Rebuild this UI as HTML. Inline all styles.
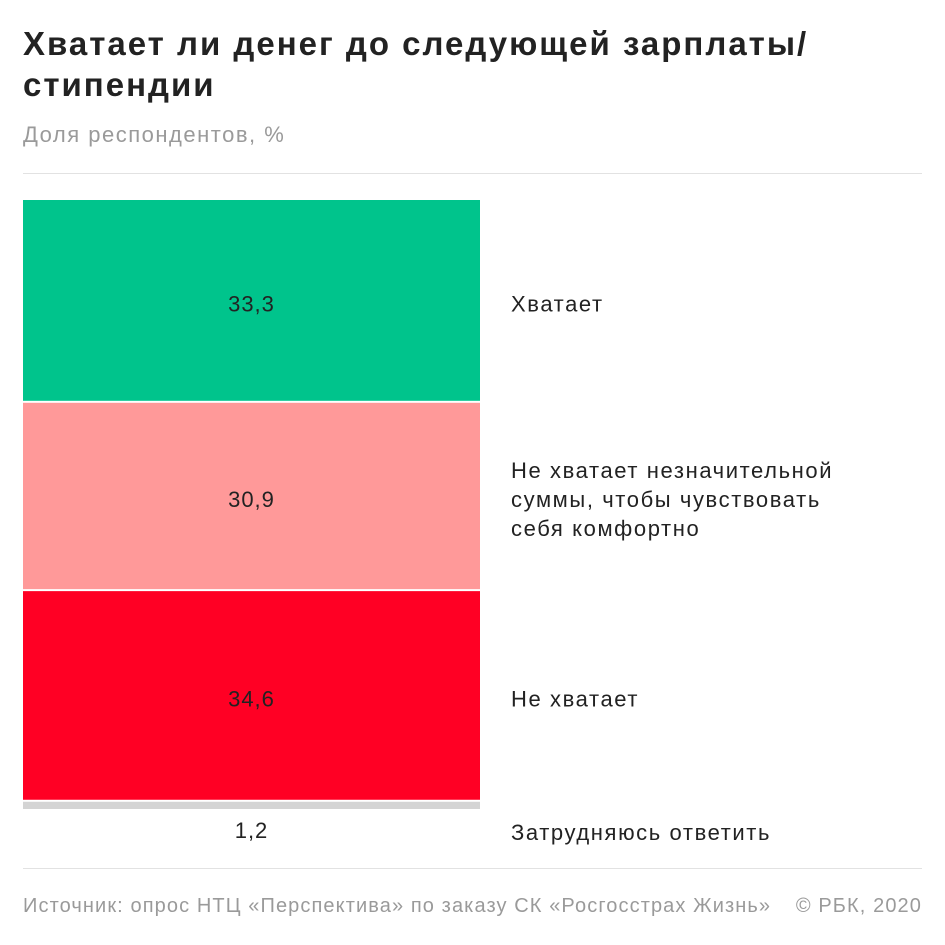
<!DOCTYPE html>
<html><head><meta charset="utf-8"><style>
body{margin:0;background:#fff;font-family:"Liberation Sans",sans-serif;}
#root{position:relative;width:945px;height:945px;overflow:hidden;}
.t{position:absolute;white-space:nowrap;}
</style></head><body>
<div id="root">
<div class="t" style="left:23px;top:23px;font-size:33px;letter-spacing:2px;font-weight:bold;color:#222;line-height:41px;">Хватает ли денег до следующей зарплаты/<br>стипендии</div>
<div class="t" style="left:23px;top:122px;font-size:22px;letter-spacing:1.5px;color:#9a9a9a;">Доля респондентов, %</div>
<div style="position:absolute;left:23px;top:173px;width:899px;height:1px;background:#e2e2e2"></div>
<svg id="svg" width="945" height="945" style="position:absolute;left:0;top:0"></svg>
<div style="position:absolute;left:23px;top:868px;width:899px;height:1px;background:#e2e2e2"></div>
<div class="t" style="left:23px;top:895px;font-size:20px;letter-spacing:1.1px;color:#9a9a9a;">Источник: опрос НТЦ «Перспектива» по заказу СК «Росгосстрах Жизнь»</div>
<div class="t" style="right:23px;top:895px;font-size:20px;letter-spacing:1.1px;color:#9a9a9a;">© РБК, 2020</div>
</div>
<script>
const categories=["Хватает","Не хватает незначительной\nсуммы, чтобы чувствовать\nсебя комфортно","Не хватает","Затрудняюсь ответить"];
const values=[33.3,30.9,34.6,1.2];
const valueLabels=["33,3","30,9","34,6","1,2"];
const colors=["#00c48c","#ff9999","#ff0024","#d4d4d4"];
const svg=document.getElementById('svg');
const NS="http://www.w3.org/2000/svg";
const top0=200,gap=2,x0=23,w=457;
const total=values.reduce((a,b)=>a+b,0);
const avail=609-gap*(values.length-1);
const yScale=v=>v/total*avail;
let y=top0;
values.forEach((v,i)=>{
  const h=yScale(v);
  const r=document.createElementNS(NS,'rect');
  r.setAttribute('x',x0);r.setAttribute('y',y);r.setAttribute('width',w);r.setAttribute('height',h);r.setAttribute('fill',colors[i]);
  
  
  svg.appendChild(r);
  const small=h<30;
  const vt=document.createElementNS(NS,'text');
  vt.setAttribute('x',x0+w/2);vt.setAttribute('y',small?y+h+29:y+h/2+11);
  vt.setAttribute('text-anchor','middle');vt.setAttribute('font-size','22');vt.setAttribute('fill','#222');
  vt.setAttribute('letter-spacing','1');
  vt.setAttribute('font-family','Liberation Sans, sans-serif');
  vt.textContent=valueLabels[i];
  
  
  svg.appendChild(vt);
  const lines=categories[i].split('\n');
  const cy=small?y+h+20:y+h/2;
  const lt=document.createElementNS(NS,'text');
  lt.setAttribute('font-size','22');lt.setAttribute('fill','#222');
  lt.setAttribute('letter-spacing','1.6');
  lt.setAttribute('font-family','Liberation Sans, sans-serif');
  
  
  lines.forEach((ln,j)=>{
    const ts=document.createElementNS(NS,'tspan');
    ts.setAttribute('x',511);
    ts.setAttribute('y',cy+11+(j-(lines.length-1)/2)*29);
    ts.textContent=ln;
    lt.appendChild(ts);
  });
  svg.appendChild(lt);
  y+=h+gap;
});
</script>
</body></html>
